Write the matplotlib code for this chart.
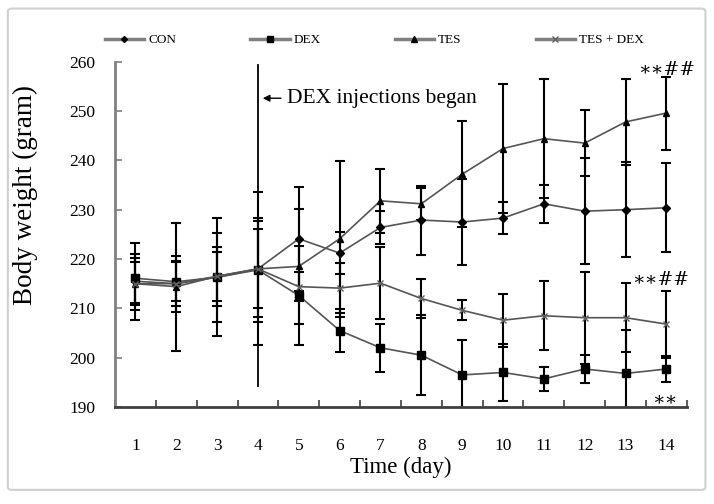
import matplotlib.pyplot as plt
from matplotlib.patches import FancyBboxPatch
from matplotlib.lines import Line2D

days = list(range(1, 15))

con = [215.5, 215.0, 216.3, 218.0, 224.1, 221.2, 226.4, 227.9, 227.5, 228.3, 231.2, 229.7, 230.0, 230.4]
con_err = [7.8, 5.7, 12.0, 15.5, 10.6, 4.3, 3.4, 7.0, 8.7, 3.2, 3.9, 10.8, 9.6, 9.0]

dex = [216.1, 215.4, 216.3, 217.8, 212.6, 205.5, 202.0, 200.5, 196.5, 197.0, 195.7, 197.7, 196.8, 197.7]
dex_err = [5.0, 4.0, 9.0, 10.5, 10.0, 4.3, 4.9, 8.1, 7.0, 5.8, 2.5, 2.9, 8.9, 2.6]

tes = [215.0, 214.4, 216.5, 218.0, 218.5, 224.1, 231.8, 231.2, 237.2, 242.4, 244.4, 243.5, 247.8, 249.6]
tes_err = [5.3, 13.0, 6.0, 9.7, 11.6, 15.8, 6.5, 3.3, 10.8, 13.1, 12.1, 6.7, 8.7, 7.4]

tesdex = [215.0, 215.0, 216.5, 218.0, 214.4, 214.1, 215.1, 212.0, 209.6, 207.6, 208.5, 208.1, 208.1, 206.8]
tesdex_err = [4.3, 4.5, 5.0, 8.0, 3.0, 5.0, 7.3, 3.9, 2.0, 5.4, 7.0, 9.3, 7.0, 6.8]

plt.rcParams['font.family'] = ['Liberation Serif', 'DejaVu Serif']

fig = plt.figure(figsize=(7.14, 5.04), dpi=100)
fig.patches.append(FancyBboxPatch((0.011, 0.028), 0.977, 0.955, boxstyle='round,pad=0,rounding_size=0.006',
                                  transform=fig.transFigure, facecolor='none', edgecolor='#d0d0d0', lw=1.5))
ax = fig.add_axes([0.161, 0.1925, 0.801, 0.685])

series = [
    ('CON', con, con_err, 'D', 4, '#000000'),
    ('DEX', dex, dex_err, 's', 6, '#000000'),
    ('TES', tes, tes_err, '^', 5, '#000000'),
    ('TES + DEX', tesdex, tesdex_err, 'x', 5, '#606060'),
]
handles = []
for name, vals, err, mk, ms, mc in series:
    ax.errorbar(days, vals, yerr=err, color='#555555', lw=1.2, marker=mk, ms=ms,
                mfc=mc, mec=mc, ecolor='black', elinewidth=1.5, capsize=3.5, capthick=1.5)
    handles.append(Line2D([], [], color='#808080', lw=2.5, marker=mk, ms=ms - 1, mfc=mc, mec=mc, label=name))

# vertical line marking start of injections
ax.plot([4, 4], [194.2, 259.4], color='black', lw=1.3)
ax.annotate('DEX injections began', xy=(4.05, 252.6), xytext=(4.7, 252.6),
            fontsize=15.5, va='center',
            arrowprops=dict(arrowstyle='-|>', color='black', lw=1.0, mutation_scale=10))

ax.text(14.0, 258.4, '\u2217\u2217##', fontsize=13.5, ha='center', va='center', family=['DejaVu Serif'])
ax.text(13.85, 215.8, '\u2217\u2217##', fontsize=13.5, ha='center', va='center', family=['DejaVu Serif'])
ax.text(13.95, 191.6, '\u2217\u2217', fontsize=13.5, ha='center', va='center', family=['DejaVu Serif'])

ax.set_xlim(0.5, 14.5)
ax.set_ylim(190, 260)
ax.set_yticks(range(190, 261, 10))
ax.set_xticks(days)
ax.set_xticks([d + 0.5 for d in range(0, 15)], minor=True)
ax.tick_params(axis='x', which='major', length=0, pad=22, labelsize=12.5)
ax.tick_params(axis='x', which='minor', direction='in', length=5, width=1.2, color='#404040')
ax.tick_params(axis='y', direction='in', length=5, width=1.2, color='#808080', pad=14, labelsize=12.5)

for s in ['top', 'right']:
    ax.spines[s].set_visible(False)
ax.spines['left'].set_color('#808080')
ax.spines['left'].set_linewidth(2)
ax.spines['bottom'].set_color('#404040')
ax.spines['bottom'].set_linewidth(2)

ax.set_xlabel('Time (day)', fontsize=16.5, labelpad=2)
ax.set_ylabel('Body weight (gram)', fontsize=19.5)
ax.yaxis.set_label_coords(-0.135, 0.615)

fig.legend(handles=handles, loc='center left', bbox_to_anchor=(0.13, 0.92), ncol=4, frameon=False,
           fontsize=9.5, columnspacing=5.6, handlelength=3.0, handletextpad=0.3)

fig.savefig('out.png', dpi=100)
